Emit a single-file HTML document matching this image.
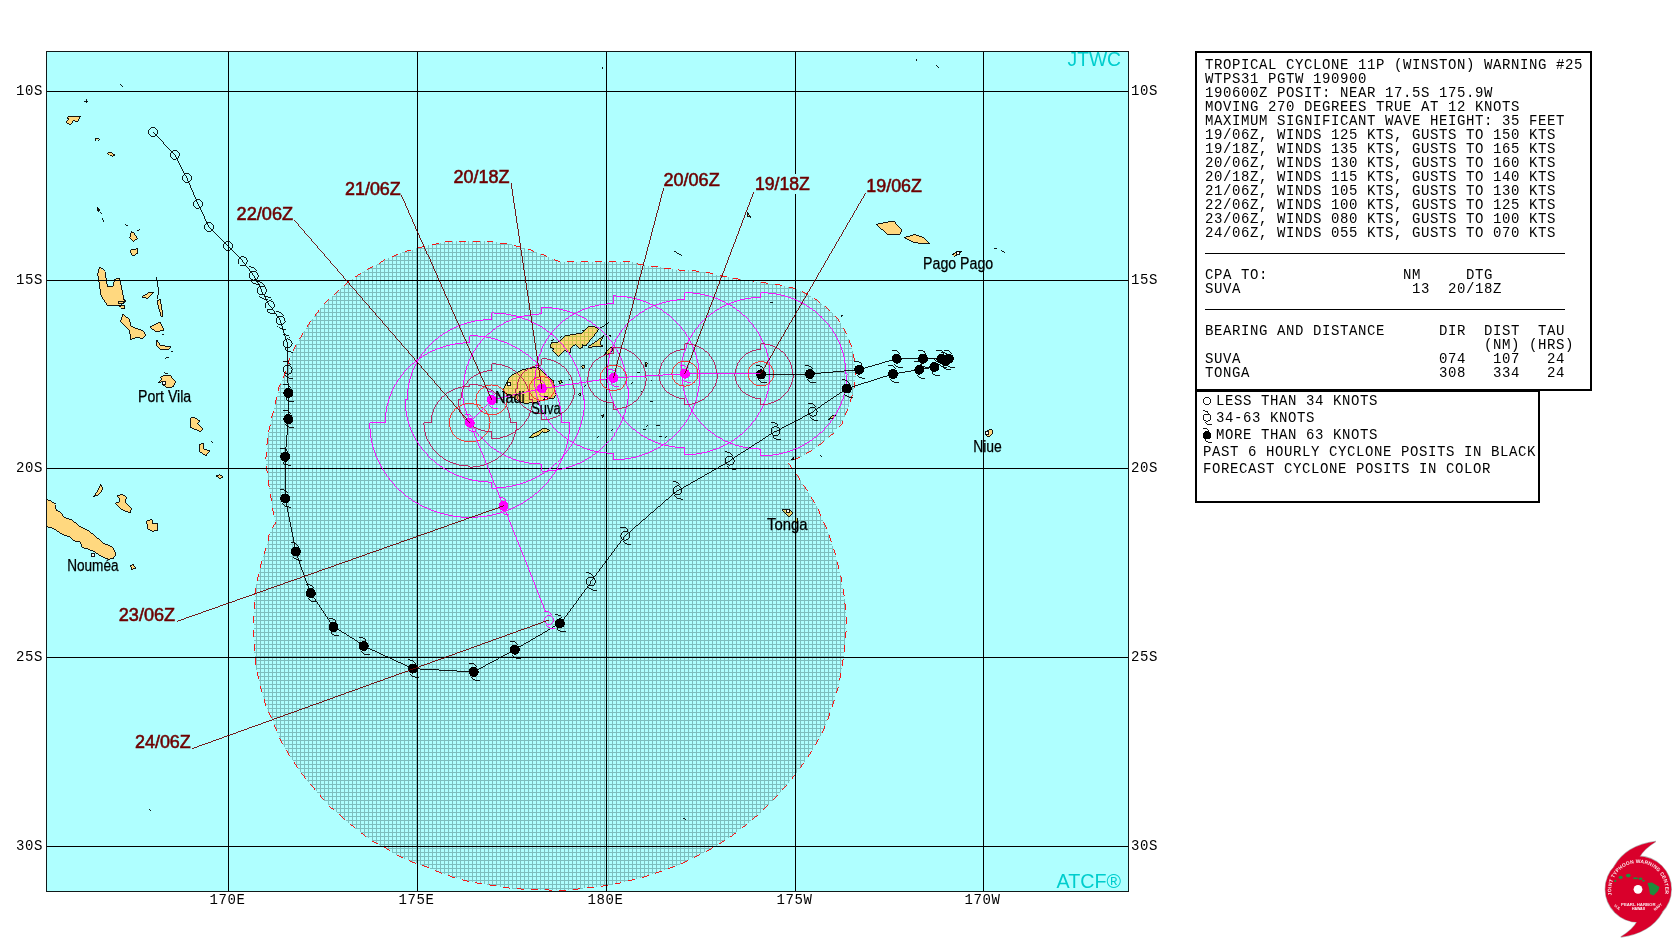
<!DOCTYPE html><html><head><meta charset="utf-8"><title>TC 11P Winston Warning 25</title>
<style>html,body{margin:0;padding:0;background:#fff;width:1678px;height:943px;overflow:hidden}svg text{font-family:"Liberation Sans",sans-serif}.m{font-family:"Liberation Mono",monospace;font-size:14px;fill:#000}.s{font-family:"Liberation Sans",sans-serif}</style></head><body>
<svg width="1678" height="943" viewBox="0 0 1678 943" shape-rendering="crispEdges" style="position:absolute;left:0;top:0;display:block;will-change:transform">
<defs>
<pattern id="hatch" patternUnits="userSpaceOnUse" x="0" y="0" width="4" height="4"><rect x="0" y="0" width="4" height="1" fill="#7dbebe"/><rect x="0" y="0" width="1" height="4" fill="#7dbebe"/></pattern>
<pattern id="hatch2" patternUnits="userSpaceOnUse" x="0" y="0" width="4" height="4"><rect x="0" y="0" width="4" height="1" fill="#bebe46"/><rect x="0" y="0" width="1" height="4" fill="#bebe46"/></pattern>
<clipPath id="islclip"><polygon points="68.4,116.3 80.8,116.4 79.7,117.4 78.5,120.2 77.6,121.5 75.3,121.5 74.0,120.3 72.5,121.9 70.4,124.6 68.1,123.6 66.2,121.5 67.6,120.2 68.5,118.9 67.2,118.4"/><polygon points="95.0,138.5 99.0,138.5 97.0,141.0"/><polygon points="97.0,207.0 99.5,209.5 97.5,211.0"/><polygon points="107.5,152.5 110.0,151.7 113.0,154.0 114.6,155.0 112.0,156.8 109.5,155.0"/><polygon points="131.0,231.5 134.0,233.0 137.3,238.5 133.0,241.5 129.5,238.0"/><polygon points="130.5,249.5 137.5,248.8 137.8,253.0 134.0,255.5 131.5,255.0"/><polygon points="99.5,267.3 105.0,271.7 107.3,286.2 112.8,286.2 115.1,279.1 119.5,278.4 121.7,288.4 124.4,301.8 119.5,305.1 107.3,305.1 101.2,296.2 97.7,273.9"/><polygon points="118.0,301.5 123.0,301.0 123.5,303.4 119.0,303.6"/><polygon points="117.5,305.5 122.0,305.0 124.7,306.0 124.5,308.8 121.0,308.0"/><polygon points="141.8,297.0 150.0,292.0 154.0,292.0 148.0,298.4"/><polygon points="157.5,300.0 160.0,299.0 163.0,315.0 161.5,317.4 158.0,305.0"/><polygon points="122.9,314.0 129.5,319.6 130.7,326.3 142.9,330.7 146.2,335.2 142.9,338.5 136.2,337.4 130.7,339.7 129.5,330.7 120.6,321.8"/><polygon points="149.6,327.0 160.0,321.8 164.1,330.0 156.0,331.9"/><polygon points="157.0,340.0 160.0,345.0 170.7,347.0 168.0,349.7 160.0,349.0 156.3,345.0"/><polygon points="158.2,382.5 160.0,381.0 161.5,379.0 160.2,377.3 162.6,376.2 164.3,375.2 169.8,375.3 171.8,377.3 175.5,381.6 174.4,384.2 173.5,386.2 170.6,387.6 167.2,387.6 165.2,386.2 162.3,384.8 162.0,381.6 160.6,382.2"/><polygon points="190.6,418.1 193.9,417.2 199.6,421.0 197.2,423.4 203.4,429.1 200.1,431.5 191.0,427.7"/><polygon points="199.0,445.0 203.0,443.2 204.0,449.0 209.7,451.0 206.0,455.5 200.0,452.0"/><polygon points="40.0,496.0 46.0,498.2 48.5,500.1 55.5,504.6 56.2,510.3 61.3,512.8 63.8,517.3 69.5,519.2 72.7,521.1 76.5,523.0 79.1,526.2 89.3,531.3 96.9,537.6 104.6,544.0 112.2,546.6 116.0,554.2 113.5,558.0 108.4,559.3 102.0,556.7 94.4,551.6 88.0,549.1 82.9,547.8 80.4,541.5 75.3,541.5 68.9,536.4 63.8,535.1 58.7,531.9 53.6,528.7 46.0,526.2 40.0,525.0"/><polygon points="100.7,483.5 102.6,487.4 101.4,491.8 98.2,495.0 93.1,496.7 96.3,493.1 98.8,488.0"/><polygon points="117.3,495.6 122.4,494.4 126.2,496.9 125.6,503.3 131.3,507.7 130.6,512.8 124.9,510.9 119.8,508.4 115.8,503.3 119.8,501.4 119.2,498.2"/><polygon points="146.6,521.1 151.7,519.2 152.9,523.6 158.0,523.6 157.4,530.6 152.3,531.3 147.8,528.7"/><polygon points="130.5,565.0 133.0,564.4 135.7,568.0 132.0,569.5"/><polygon points="216.0,476.0 220.0,474.6 222.9,477.0 220.0,478.5"/><polygon points="502.7,391.5 507.8,379.8 512.3,374.6 523.1,369.5 536.4,367.3 539.6,368.3 542.8,372.1 551.1,379.1 553.6,381.0 554.3,388.6 556.2,394.4 553.6,398.2 547.3,398.8 540.9,400.7 535.8,402.6 524.4,403.3 519.3,401.4"/><polygon points="549.9,347.1 551.3,343.0 558.4,342.1 565.6,335.9 572.7,334.5 582.1,333.2 585.2,330.1 588.6,326.3 593.7,326.5 597.7,328.3 598.6,329.2 594.6,335.0 587.9,343.0 586.1,345.7 582.1,344.8 582.1,347.5 579.9,348.4 575.8,344.4 571.8,346.6 570.0,350.6 570.0,352.9 564.7,350.2 558.4,356.4 552.6,351.1 553.5,348.4"/><polygon points="587.9,347.1 600.0,338.6 603.6,335.4 600.9,341.7 600.0,344.4 603.1,346.2 594.2,346.2 589.7,348.0"/><polygon points="604.5,354.7 608.5,348.8 612.1,345.7 613.0,349.3 609.8,353.3"/><polygon points="608.5,335.5 610.7,334.5 610.0,336.8"/><polygon points="529.2,437.6 532.8,434.3 536.4,432.5 538.8,431.3 541.2,429.5 544.1,428.3 547.1,428.9 550.1,430.7 547.7,431.9 544.7,432.5 542.3,431.9 539.4,434.9 536.4,436.1 532.8,437.6"/><polygon points="558.5,381.0 561.0,380.0 562.5,382.5 560.0,383.5"/><polygon points="581.5,365.8 584.5,365.5 583.0,368.5"/><polygon points="578.5,393.5 580.5,392.5 581.0,396.0"/><polygon points="601.5,415.0 604.0,414.8 602.5,417.8"/><polygon points="645.2,363.0 647.2,362.8 646.8,366.2 645.4,366.0"/><polygon points="747.3,212.2 750.9,217.2 748.0,216.5"/><polygon points="876.2,224.3 885.7,222.4 893.8,221.2 901.5,229.5 899.6,234.3 887.6,234.6"/><polygon points="904.3,237.6 914.3,234.6 922.9,237.2 929.6,243.4 914.3,242.9 906.7,239.1"/><polygon points="951.5,254.3 957.2,251.5 961.5,251.2 959.1,253.9 954.4,256.2"/><polygon points="985.8,431.6 991.6,429.1 992.8,432.9 989.7,436.4 986.5,436.1"/><polygon points="828.0,419.5 832.0,416.0 836.0,415.5 833.0,418.0"/><polygon points="782.2,510.0 789.0,509.5 792.8,513.0 789.0,517.0"/><polygon points="795.5,519.0 797.0,517.5 798.0,522.0 795.5,522.0"/></clipPath>
<clipPath id="mc"><rect x="47" y="52" width="1081" height="839"/></clipPath>
</defs>
<rect x="0" y="0" width="1678" height="943" fill="#fff"/>
<rect x="46" y="51" width="1083" height="841" fill="#afffff"/>
<g clip-path="url(#mc)">
<polygon points="68.4,116.3 80.8,116.4 79.7,117.4 78.5,120.2 77.6,121.5 75.3,121.5 74.0,120.3 72.5,121.9 70.4,124.6 68.1,123.6 66.2,121.5 67.6,120.2 68.5,118.9 67.2,118.4" fill="#ffd87f"/>
<polygon points="95.0,138.5 99.0,138.5 97.0,141.0" fill="#ffd87f"/>
<polygon points="97.0,207.0 99.5,209.5 97.5,211.0" fill="#ffd87f"/>
<polygon points="107.5,152.5 110.0,151.7 113.0,154.0 114.6,155.0 112.0,156.8 109.5,155.0" fill="#ffd87f"/>
<polygon points="131.0,231.5 134.0,233.0 137.3,238.5 133.0,241.5 129.5,238.0" fill="#ffd87f"/>
<polygon points="130.5,249.5 137.5,248.8 137.8,253.0 134.0,255.5 131.5,255.0" fill="#ffd87f"/>
<polygon points="99.5,267.3 105.0,271.7 107.3,286.2 112.8,286.2 115.1,279.1 119.5,278.4 121.7,288.4 124.4,301.8 119.5,305.1 107.3,305.1 101.2,296.2 97.7,273.9" fill="#ffd87f"/>
<polygon points="118.0,301.5 123.0,301.0 123.5,303.4 119.0,303.6" fill="#ffd87f"/>
<polygon points="117.5,305.5 122.0,305.0 124.7,306.0 124.5,308.8 121.0,308.0" fill="#ffd87f"/>
<polygon points="141.8,297.0 150.0,292.0 154.0,292.0 148.0,298.4" fill="#ffd87f"/>
<polygon points="157.5,300.0 160.0,299.0 163.0,315.0 161.5,317.4 158.0,305.0" fill="#ffd87f"/>
<polygon points="122.9,314.0 129.5,319.6 130.7,326.3 142.9,330.7 146.2,335.2 142.9,338.5 136.2,337.4 130.7,339.7 129.5,330.7 120.6,321.8" fill="#ffd87f"/>
<polygon points="149.6,327.0 160.0,321.8 164.1,330.0 156.0,331.9" fill="#ffd87f"/>
<polygon points="157.0,340.0 160.0,345.0 170.7,347.0 168.0,349.7 160.0,349.0 156.3,345.0" fill="#ffd87f"/>
<polygon points="158.2,382.5 160.0,381.0 161.5,379.0 160.2,377.3 162.6,376.2 164.3,375.2 169.8,375.3 171.8,377.3 175.5,381.6 174.4,384.2 173.5,386.2 170.6,387.6 167.2,387.6 165.2,386.2 162.3,384.8 162.0,381.6 160.6,382.2" fill="#ffd87f"/>
<polygon points="190.6,418.1 193.9,417.2 199.6,421.0 197.2,423.4 203.4,429.1 200.1,431.5 191.0,427.7" fill="#ffd87f"/>
<polygon points="199.0,445.0 203.0,443.2 204.0,449.0 209.7,451.0 206.0,455.5 200.0,452.0" fill="#ffd87f"/>
<polygon points="40.0,496.0 46.0,498.2 48.5,500.1 55.5,504.6 56.2,510.3 61.3,512.8 63.8,517.3 69.5,519.2 72.7,521.1 76.5,523.0 79.1,526.2 89.3,531.3 96.9,537.6 104.6,544.0 112.2,546.6 116.0,554.2 113.5,558.0 108.4,559.3 102.0,556.7 94.4,551.6 88.0,549.1 82.9,547.8 80.4,541.5 75.3,541.5 68.9,536.4 63.8,535.1 58.7,531.9 53.6,528.7 46.0,526.2 40.0,525.0" fill="#ffd87f"/>
<polygon points="100.7,483.5 102.6,487.4 101.4,491.8 98.2,495.0 93.1,496.7 96.3,493.1 98.8,488.0" fill="#ffd87f"/>
<polygon points="117.3,495.6 122.4,494.4 126.2,496.9 125.6,503.3 131.3,507.7 130.6,512.8 124.9,510.9 119.8,508.4 115.8,503.3 119.8,501.4 119.2,498.2" fill="#ffd87f"/>
<polygon points="146.6,521.1 151.7,519.2 152.9,523.6 158.0,523.6 157.4,530.6 152.3,531.3 147.8,528.7" fill="#ffd87f"/>
<polygon points="130.5,565.0 133.0,564.4 135.7,568.0 132.0,569.5" fill="#ffd87f"/>
<polygon points="216.0,476.0 220.0,474.6 222.9,477.0 220.0,478.5" fill="#ffd87f"/>
<polygon points="502.7,391.5 507.8,379.8 512.3,374.6 523.1,369.5 536.4,367.3 539.6,368.3 542.8,372.1 551.1,379.1 553.6,381.0 554.3,388.6 556.2,394.4 553.6,398.2 547.3,398.8 540.9,400.7 535.8,402.6 524.4,403.3 519.3,401.4" fill="#ffd87f"/>
<polygon points="549.9,347.1 551.3,343.0 558.4,342.1 565.6,335.9 572.7,334.5 582.1,333.2 585.2,330.1 588.6,326.3 593.7,326.5 597.7,328.3 598.6,329.2 594.6,335.0 587.9,343.0 586.1,345.7 582.1,344.8 582.1,347.5 579.9,348.4 575.8,344.4 571.8,346.6 570.0,350.6 570.0,352.9 564.7,350.2 558.4,356.4 552.6,351.1 553.5,348.4" fill="#ffd87f"/>
<polygon points="587.9,347.1 600.0,338.6 603.6,335.4 600.9,341.7 600.0,344.4 603.1,346.2 594.2,346.2 589.7,348.0" fill="#ffd87f"/>
<polygon points="604.5,354.7 608.5,348.8 612.1,345.7 613.0,349.3 609.8,353.3" fill="#ffd87f"/>
<polygon points="608.5,335.5 610.7,334.5 610.0,336.8" fill="#ffd87f"/>
<polygon points="529.2,437.6 532.8,434.3 536.4,432.5 538.8,431.3 541.2,429.5 544.1,428.3 547.1,428.9 550.1,430.7 547.7,431.9 544.7,432.5 542.3,431.9 539.4,434.9 536.4,436.1 532.8,437.6" fill="#ffd87f"/>
<polygon points="558.5,381.0 561.0,380.0 562.5,382.5 560.0,383.5" fill="#ffd87f"/>
<polygon points="581.5,365.8 584.5,365.5 583.0,368.5" fill="#ffd87f"/>
<polygon points="578.5,393.5 580.5,392.5 581.0,396.0" fill="#ffd87f"/>
<polygon points="601.5,415.0 604.0,414.8 602.5,417.8" fill="#ffd87f"/>
<polygon points="645.2,363.0 647.2,362.8 646.8,366.2 645.4,366.0" fill="#ffd87f"/>
<polygon points="747.3,212.2 750.9,217.2 748.0,216.5" fill="#ffd87f"/>
<polygon points="876.2,224.3 885.7,222.4 893.8,221.2 901.5,229.5 899.6,234.3 887.6,234.6" fill="#ffd87f"/>
<polygon points="904.3,237.6 914.3,234.6 922.9,237.2 929.6,243.4 914.3,242.9 906.7,239.1" fill="#ffd87f"/>
<polygon points="951.5,254.3 957.2,251.5 961.5,251.2 959.1,253.9 954.4,256.2" fill="#ffd87f"/>
<polygon points="985.8,431.6 991.6,429.1 992.8,432.9 989.7,436.4 986.5,436.1" fill="#ffd87f"/>
<polygon points="828.0,419.5 832.0,416.0 836.0,415.5 833.0,418.0" fill="#ffd87f"/>
<polygon points="782.2,510.0 789.0,509.5 792.8,513.0 789.0,517.0" fill="#ffd87f"/>
<polygon points="795.5,519.0 797.0,517.5 798.0,522.0 795.5,522.0" fill="#ffd87f"/>
<polygon points="486.5,241.3 498.4,242.5 502.0,243.6 511.5,244.3 517.5,246.5 525.8,248.7 530.6,250.1 540.1,253.5 544.9,255.6 553.8,259.4 559.2,261.6 630.7,261.8 637.9,263.9 643.2,265.1 651.3,266.7 657.4,266.7 665.5,268.2 671.5,268.5 679.6,270.2 684.7,270.5 692.8,270.4 697.9,271.4 707.0,272.2 712.1,273.7 720.2,275.8 726.3,276.6 734.4,278.5 740.4,279.3 748.5,280.5 754.6,281.5 762.7,282.4 768.8,283.7 776.9,284.4 783.0,285.6 791.1,287.4 796.2,289.2 805.0,292.9 817.7,300.7 828.3,309.2 837.8,318.7 845.2,331.4 851.6,346.3 854.7,361.1 855.8,375.9 853.7,390.8 848.4,407.7 842.0,422.5 833.6,433.1 824.0,441.6 812.4,450.1 801.8,456.4 790.1,461.7 787.5,462.5 794.2,470.5 806.1,489.0 816.7,506.3 827.3,530.2 835.3,554.0 836.9,561.4 841.0,576.6 843.8,593.1 846.0,612.4 846.0,631.7 844.3,651.0 841.6,670.3 838.3,686.9 834.1,700.7 828.6,717.2 823.1,731.0 816.2,743.4 807.9,757.2 796.9,772.4 785.9,786.2 774.8,798.6 761.0,812.4 747.5,823.7 734.0,834.4 719.6,843.8 706.0,851.6 691.7,858.8 678.1,865.2 664.5,870.2 650.2,875.2 635.9,879.1 623.0,882.4 608.7,885.3 594.4,887.1 580.0,888.8 565.7,890.3 543.7,889.9 529.3,889.3 512.7,888.7 498.2,886.2 483.8,884.1 469.3,881.6 454.8,877.9 440.3,872.7 425.8,866.5 413.4,862.4 398.9,856.2 384.5,847.9 370.0,839.6 357.6,830.3 343.1,817.9 329.6,806.5 316.2,791.0 304.8,777.6 294.5,763.1 287.2,751.7 279.0,737.2 272.8,720.7 265.5,705.2 260.3,685.2 256.5,669.9 254.6,654.7 253.6,635.5 253.6,616.4 254.6,597.3 256.5,584.0 259.3,570.6 264.1,553.4 267.9,541.9 269.5,532.7 275.3,523.2 273.4,513.7 268.6,483.1 265.7,460.2 267.6,437.3 271.5,418.2 274.3,408.6 276.3,398.1 279.3,386.2 285.2,372.9 289.7,358.0 295.6,346.1 303.1,332.8 312.0,319.4 322.4,306.0 334.3,294.2 347.6,282.3 363.8,271.3 371.3,267.5 377.7,264.3 385.2,259.5 391.7,257.3 399.2,253.6 405.6,251.4 413.1,249.5 419.5,247.5 427.1,245.5 434.0,244.4 441.0,242.6 448.0,241.5 457.9,241.3" fill="url(#hatch)" shape-rendering="crispEdges"/>
<polygon points="486.5,241.3 498.4,242.5 502.0,243.6 511.5,244.3 517.5,246.5 525.8,248.7 530.6,250.1 540.1,253.5 544.9,255.6 553.8,259.4 559.2,261.6 630.7,261.8 637.9,263.9 643.2,265.1 651.3,266.7 657.4,266.7 665.5,268.2 671.5,268.5 679.6,270.2 684.7,270.5 692.8,270.4 697.9,271.4 707.0,272.2 712.1,273.7 720.2,275.8 726.3,276.6 734.4,278.5 740.4,279.3 748.5,280.5 754.6,281.5 762.7,282.4 768.8,283.7 776.9,284.4 783.0,285.6 791.1,287.4 796.2,289.2 805.0,292.9 817.7,300.7 828.3,309.2 837.8,318.7 845.2,331.4 851.6,346.3 854.7,361.1 855.8,375.9 853.7,390.8 848.4,407.7 842.0,422.5 833.6,433.1 824.0,441.6 812.4,450.1 801.8,456.4 790.1,461.7 787.5,462.5 794.2,470.5 806.1,489.0 816.7,506.3 827.3,530.2 835.3,554.0 836.9,561.4 841.0,576.6 843.8,593.1 846.0,612.4 846.0,631.7 844.3,651.0 841.6,670.3 838.3,686.9 834.1,700.7 828.6,717.2 823.1,731.0 816.2,743.4 807.9,757.2 796.9,772.4 785.9,786.2 774.8,798.6 761.0,812.4 747.5,823.7 734.0,834.4 719.6,843.8 706.0,851.6 691.7,858.8 678.1,865.2 664.5,870.2 650.2,875.2 635.9,879.1 623.0,882.4 608.7,885.3 594.4,887.1 580.0,888.8 565.7,890.3 543.7,889.9 529.3,889.3 512.7,888.7 498.2,886.2 483.8,884.1 469.3,881.6 454.8,877.9 440.3,872.7 425.8,866.5 413.4,862.4 398.9,856.2 384.5,847.9 370.0,839.6 357.6,830.3 343.1,817.9 329.6,806.5 316.2,791.0 304.8,777.6 294.5,763.1 287.2,751.7 279.0,737.2 272.8,720.7 265.5,705.2 260.3,685.2 256.5,669.9 254.6,654.7 253.6,635.5 253.6,616.4 254.6,597.3 256.5,584.0 259.3,570.6 264.1,553.4 267.9,541.9 269.5,532.7 275.3,523.2 273.4,513.7 268.6,483.1 265.7,460.2 267.6,437.3 271.5,418.2 274.3,408.6 276.3,398.1 279.3,386.2 285.2,372.9 289.7,358.0 295.6,346.1 303.1,332.8 312.0,319.4 322.4,306.0 334.3,294.2 347.6,282.3 363.8,271.3 371.3,267.5 377.7,264.3 385.2,259.5 391.7,257.3 399.2,253.6 405.6,251.4 413.1,249.5 419.5,247.5 427.1,245.5 434.0,244.4 441.0,242.6 448.0,241.5 457.9,241.3" fill="url(#hatch2)" clip-path="url(#islclip)" shape-rendering="crispEdges"/>
<polygon points="68.4,116.3 80.8,116.4 79.7,117.4 78.5,120.2 77.6,121.5 75.3,121.5 74.0,120.3 72.5,121.9 70.4,124.6 68.1,123.6 66.2,121.5 67.6,120.2 68.5,118.9 67.2,118.4" fill="none" stroke="#000" stroke-width="0.9"/>
<polygon points="95.0,138.5 99.0,138.5 97.0,141.0" fill="none" stroke="#000" stroke-width="0.9"/>
<polygon points="97.0,207.0 99.5,209.5 97.5,211.0" fill="none" stroke="#000" stroke-width="0.9"/>
<polygon points="107.5,152.5 110.0,151.7 113.0,154.0 114.6,155.0 112.0,156.8 109.5,155.0" fill="none" stroke="#000" stroke-width="0.9"/>
<polygon points="131.0,231.5 134.0,233.0 137.3,238.5 133.0,241.5 129.5,238.0" fill="none" stroke="#000" stroke-width="0.9"/>
<polygon points="130.5,249.5 137.5,248.8 137.8,253.0 134.0,255.5 131.5,255.0" fill="none" stroke="#000" stroke-width="0.9"/>
<polygon points="99.5,267.3 105.0,271.7 107.3,286.2 112.8,286.2 115.1,279.1 119.5,278.4 121.7,288.4 124.4,301.8 119.5,305.1 107.3,305.1 101.2,296.2 97.7,273.9" fill="none" stroke="#000" stroke-width="0.9"/>
<polygon points="118.0,301.5 123.0,301.0 123.5,303.4 119.0,303.6" fill="none" stroke="#000" stroke-width="0.9"/>
<polygon points="117.5,305.5 122.0,305.0 124.7,306.0 124.5,308.8 121.0,308.0" fill="none" stroke="#000" stroke-width="0.9"/>
<polygon points="141.8,297.0 150.0,292.0 154.0,292.0 148.0,298.4" fill="none" stroke="#000" stroke-width="0.9"/>
<polygon points="157.5,300.0 160.0,299.0 163.0,315.0 161.5,317.4 158.0,305.0" fill="none" stroke="#000" stroke-width="0.9"/>
<polygon points="122.9,314.0 129.5,319.6 130.7,326.3 142.9,330.7 146.2,335.2 142.9,338.5 136.2,337.4 130.7,339.7 129.5,330.7 120.6,321.8" fill="none" stroke="#000" stroke-width="0.9"/>
<polygon points="149.6,327.0 160.0,321.8 164.1,330.0 156.0,331.9" fill="none" stroke="#000" stroke-width="0.9"/>
<polygon points="157.0,340.0 160.0,345.0 170.7,347.0 168.0,349.7 160.0,349.0 156.3,345.0" fill="none" stroke="#000" stroke-width="0.9"/>
<polygon points="158.2,382.5 160.0,381.0 161.5,379.0 160.2,377.3 162.6,376.2 164.3,375.2 169.8,375.3 171.8,377.3 175.5,381.6 174.4,384.2 173.5,386.2 170.6,387.6 167.2,387.6 165.2,386.2 162.3,384.8 162.0,381.6 160.6,382.2" fill="none" stroke="#000" stroke-width="0.9"/>
<polygon points="190.6,418.1 193.9,417.2 199.6,421.0 197.2,423.4 203.4,429.1 200.1,431.5 191.0,427.7" fill="none" stroke="#000" stroke-width="0.9"/>
<polygon points="199.0,445.0 203.0,443.2 204.0,449.0 209.7,451.0 206.0,455.5 200.0,452.0" fill="none" stroke="#000" stroke-width="0.9"/>
<polygon points="40.0,496.0 46.0,498.2 48.5,500.1 55.5,504.6 56.2,510.3 61.3,512.8 63.8,517.3 69.5,519.2 72.7,521.1 76.5,523.0 79.1,526.2 89.3,531.3 96.9,537.6 104.6,544.0 112.2,546.6 116.0,554.2 113.5,558.0 108.4,559.3 102.0,556.7 94.4,551.6 88.0,549.1 82.9,547.8 80.4,541.5 75.3,541.5 68.9,536.4 63.8,535.1 58.7,531.9 53.6,528.7 46.0,526.2 40.0,525.0" fill="none" stroke="#000" stroke-width="0.9"/>
<polygon points="100.7,483.5 102.6,487.4 101.4,491.8 98.2,495.0 93.1,496.7 96.3,493.1 98.8,488.0" fill="none" stroke="#000" stroke-width="0.9"/>
<polygon points="117.3,495.6 122.4,494.4 126.2,496.9 125.6,503.3 131.3,507.7 130.6,512.8 124.9,510.9 119.8,508.4 115.8,503.3 119.8,501.4 119.2,498.2" fill="none" stroke="#000" stroke-width="0.9"/>
<polygon points="146.6,521.1 151.7,519.2 152.9,523.6 158.0,523.6 157.4,530.6 152.3,531.3 147.8,528.7" fill="none" stroke="#000" stroke-width="0.9"/>
<polygon points="130.5,565.0 133.0,564.4 135.7,568.0 132.0,569.5" fill="none" stroke="#000" stroke-width="0.9"/>
<polygon points="216.0,476.0 220.0,474.6 222.9,477.0 220.0,478.5" fill="none" stroke="#000" stroke-width="0.9"/>
<polygon points="502.7,391.5 507.8,379.8 512.3,374.6 523.1,369.5 536.4,367.3 539.6,368.3 542.8,372.1 551.1,379.1 553.6,381.0 554.3,388.6 556.2,394.4 553.6,398.2 547.3,398.8 540.9,400.7 535.8,402.6 524.4,403.3 519.3,401.4" fill="none" stroke="#000" stroke-width="0.9"/>
<polygon points="549.9,347.1 551.3,343.0 558.4,342.1 565.6,335.9 572.7,334.5 582.1,333.2 585.2,330.1 588.6,326.3 593.7,326.5 597.7,328.3 598.6,329.2 594.6,335.0 587.9,343.0 586.1,345.7 582.1,344.8 582.1,347.5 579.9,348.4 575.8,344.4 571.8,346.6 570.0,350.6 570.0,352.9 564.7,350.2 558.4,356.4 552.6,351.1 553.5,348.4" fill="none" stroke="#000" stroke-width="0.9"/>
<polygon points="587.9,347.1 600.0,338.6 603.6,335.4 600.9,341.7 600.0,344.4 603.1,346.2 594.2,346.2 589.7,348.0" fill="none" stroke="#000" stroke-width="0.9"/>
<polygon points="604.5,354.7 608.5,348.8 612.1,345.7 613.0,349.3 609.8,353.3" fill="none" stroke="#000" stroke-width="0.9"/>
<polygon points="608.5,335.5 610.7,334.5 610.0,336.8" fill="none" stroke="#000" stroke-width="0.9"/>
<polygon points="529.2,437.6 532.8,434.3 536.4,432.5 538.8,431.3 541.2,429.5 544.1,428.3 547.1,428.9 550.1,430.7 547.7,431.9 544.7,432.5 542.3,431.9 539.4,434.9 536.4,436.1 532.8,437.6" fill="none" stroke="#000" stroke-width="0.9"/>
<polygon points="558.5,381.0 561.0,380.0 562.5,382.5 560.0,383.5" fill="none" stroke="#000" stroke-width="0.9"/>
<polygon points="581.5,365.8 584.5,365.5 583.0,368.5" fill="none" stroke="#000" stroke-width="0.9"/>
<polygon points="578.5,393.5 580.5,392.5 581.0,396.0" fill="none" stroke="#000" stroke-width="0.9"/>
<polygon points="601.5,415.0 604.0,414.8 602.5,417.8" fill="none" stroke="#000" stroke-width="0.9"/>
<polygon points="645.2,363.0 647.2,362.8 646.8,366.2 645.4,366.0" fill="none" stroke="#000" stroke-width="0.9"/>
<polygon points="747.3,212.2 750.9,217.2 748.0,216.5" fill="none" stroke="#000" stroke-width="0.9"/>
<polygon points="876.2,224.3 885.7,222.4 893.8,221.2 901.5,229.5 899.6,234.3 887.6,234.6" fill="none" stroke="#000" stroke-width="0.9"/>
<polygon points="904.3,237.6 914.3,234.6 922.9,237.2 929.6,243.4 914.3,242.9 906.7,239.1" fill="none" stroke="#000" stroke-width="0.9"/>
<polygon points="951.5,254.3 957.2,251.5 961.5,251.2 959.1,253.9 954.4,256.2" fill="none" stroke="#000" stroke-width="0.9"/>
<polygon points="985.8,431.6 991.6,429.1 992.8,432.9 989.7,436.4 986.5,436.1" fill="none" stroke="#000" stroke-width="0.9"/>
<polygon points="828.0,419.5 832.0,416.0 836.0,415.5 833.0,418.0" fill="none" stroke="#000" stroke-width="0.9"/>
<polygon points="782.2,510.0 789.0,509.5 792.8,513.0 789.0,517.0" fill="none" stroke="#000" stroke-width="0.9"/>
<polygon points="795.5,519.0 797.0,517.5 798.0,522.0 795.5,522.0" fill="none" stroke="#000" stroke-width="0.9"/>
<polyline points="124.4,299.5 126.0,301.0 124.8,302.7" fill="none" stroke="#000" stroke-width="0.9"/>
<polyline points="791.0,459.5 793.5,457.0 794.0,459.5 791.0,459.5" fill="none" stroke="#000" stroke-width="0.9"/>
<polyline points="120.5,84.0 122.5,86.5" fill="none" stroke="#000" stroke-width="0.9"/>
<polyline points="84.0,101.0 88.0,101.0" fill="none" stroke="#000" stroke-width="0.9"/>
<polyline points="86.0,99.0 86.0,102.5" fill="none" stroke="#000" stroke-width="0.9"/>
<polyline points="97.5,207.5 99.5,210.5" fill="none" stroke="#000" stroke-width="0.9"/>
<polyline points="100.0,212.0 102.0,214.0" fill="none" stroke="#000" stroke-width="0.9"/>
<polyline points="102.0,218.0 104.0,221.5" fill="none" stroke="#000" stroke-width="0.9"/>
<polyline points="125.0,224.5 127.5,225.5" fill="none" stroke="#000" stroke-width="0.9"/>
<polyline points="136.5,230.5 140.0,229.0" fill="none" stroke="#000" stroke-width="0.9"/>
<polyline points="156.3,277.3 158.5,290.0 157.5,299.0" fill="none" stroke="#000" stroke-width="0.9"/>
<polyline points="162.0,334.0 164.0,335.0" fill="none" stroke="#000" stroke-width="0.9"/>
<polyline points="164.3,372.3 165.5,373.5 167.8,374.5" fill="none" stroke="#000" stroke-width="0.9"/>
<polyline points="171.0,351.0 173.0,352.0" fill="none" stroke="#000" stroke-width="0.9"/>
<polyline points="165.0,358.5 169.0,357.0" fill="none" stroke="#000" stroke-width="0.9"/>
<polyline points="211.0,441.0 213.0,443.0" fill="none" stroke="#000" stroke-width="0.9"/>
<polyline points="674.0,251.0 682.0,255.7" fill="none" stroke="#000" stroke-width="0.9"/>
<polyline points="598.6,329.2 609.4,322.2" fill="none" stroke="#000" stroke-width="0.9"/>
<polyline points="559.8,337.7 562.4,336.3" fill="none" stroke="#000" stroke-width="0.9"/>
<polyline points="551.3,340.4 554.4,339.5" fill="none" stroke="#000" stroke-width="0.9"/>
<polyline points="581.7,330.3 583.9,330.3" fill="none" stroke="#000" stroke-width="0.9"/>
<polyline points="602.5,66.5 602.5,69.0" fill="none" stroke="#000" stroke-width="0.9"/>
<polyline points="916.0,58.5 916.0,60.5" fill="none" stroke="#000" stroke-width="0.9"/>
<polyline points="936.5,65.0 938.5,67.5" fill="none" stroke="#000" stroke-width="0.9"/>
<polyline points="994.0,248.3 997.0,248.3" fill="none" stroke="#000" stroke-width="0.9"/>
<polyline points="1001.0,250.0 1005.0,252.7" fill="none" stroke="#000" stroke-width="0.9"/>
<polyline points="149.0,808.5 151.0,810.5" fill="none" stroke="#000" stroke-width="0.9"/>
<polyline points="683.0,818.5 686.0,819.5" fill="none" stroke="#000" stroke-width="0.9"/>
<polyline points="820.0,455.0 822.0,457.0" fill="none" stroke="#000" stroke-width="0.9"/>
<polyline points="769.5,302.5 772.5,302.5" fill="none" stroke="#000" stroke-width="0.9"/>
<polyline points="841.0,316.5 843.0,315.5" fill="none" stroke="#000" stroke-width="0.9"/>
<polyline points="840.5,315.0 842.0,316.0" fill="none" stroke="#000" stroke-width="0.9"/>
<polyline points="568.5,378.8 569.8,380.2" fill="none" stroke="#000" stroke-width="0.9"/>
<polyline points="584.3,386.5 585.6,385.0" fill="none" stroke="#000" stroke-width="0.9"/>
<polyline points="611.0,430.8 613.0,428.6" fill="none" stroke="#000" stroke-width="0.9"/>
<polyline points="596.5,437.2 598.8,436.0" fill="none" stroke="#000" stroke-width="0.9"/>
<polyline points="631.0,384.3 633.3,382.0" fill="none" stroke="#000" stroke-width="0.9"/>
<polyline points="637.0,372.0 639.8,372.0" fill="none" stroke="#000" stroke-width="0.9"/>
<polyline points="650.5,380.5 652.0,381.6" fill="none" stroke="#000" stroke-width="0.9"/>
<polyline points="641.2,391.3 642.0,392.0" fill="none" stroke="#000" stroke-width="0.9"/>
<polyline points="650.2,401.2 653.2,401.2" fill="none" stroke="#000" stroke-width="0.9"/>
<polyline points="646.5,426.8 648.0,425.2" fill="none" stroke="#000" stroke-width="0.9"/>
<polyline points="643.4,429.6 646.0,429.6" fill="none" stroke="#000" stroke-width="0.9"/>
<polyline points="656.4,425.5 659.6,425.5" fill="none" stroke="#000" stroke-width="0.9"/>
<polyline points="658.6,436.6 661.8,436.6" fill="none" stroke="#000" stroke-width="0.9"/>
<polyline points="665.4,437.6 666.6,435.6" fill="none" stroke="#000" stroke-width="0.9"/>
<polygon points="486.5,241.3 498.4,242.5 502.0,243.6 511.5,244.3 517.5,246.5 525.8,248.7 530.6,250.1 540.1,253.5 544.9,255.6 553.8,259.4 559.2,261.6 630.7,261.8 637.9,263.9 643.2,265.1 651.3,266.7 657.4,266.7 665.5,268.2 671.5,268.5 679.6,270.2 684.7,270.5 692.8,270.4 697.9,271.4 707.0,272.2 712.1,273.7 720.2,275.8 726.3,276.6 734.4,278.5 740.4,279.3 748.5,280.5 754.6,281.5 762.7,282.4 768.8,283.7 776.9,284.4 783.0,285.6 791.1,287.4 796.2,289.2 805.0,292.9 817.7,300.7 828.3,309.2 837.8,318.7 845.2,331.4 851.6,346.3 854.7,361.1 855.8,375.9 853.7,390.8 848.4,407.7 842.0,422.5 833.6,433.1 824.0,441.6 812.4,450.1 801.8,456.4 790.1,461.7 787.5,462.5 794.2,470.5 806.1,489.0 816.7,506.3 827.3,530.2 835.3,554.0 836.9,561.4 841.0,576.6 843.8,593.1 846.0,612.4 846.0,631.7 844.3,651.0 841.6,670.3 838.3,686.9 834.1,700.7 828.6,717.2 823.1,731.0 816.2,743.4 807.9,757.2 796.9,772.4 785.9,786.2 774.8,798.6 761.0,812.4 747.5,823.7 734.0,834.4 719.6,843.8 706.0,851.6 691.7,858.8 678.1,865.2 664.5,870.2 650.2,875.2 635.9,879.1 623.0,882.4 608.7,885.3 594.4,887.1 580.0,888.8 565.7,890.3 543.7,889.9 529.3,889.3 512.7,888.7 498.2,886.2 483.8,884.1 469.3,881.6 454.8,877.9 440.3,872.7 425.8,866.5 413.4,862.4 398.9,856.2 384.5,847.9 370.0,839.6 357.6,830.3 343.1,817.9 329.6,806.5 316.2,791.0 304.8,777.6 294.5,763.1 287.2,751.7 279.0,737.2 272.8,720.7 265.5,705.2 260.3,685.2 256.5,669.9 254.6,654.7 253.6,635.5 253.6,616.4 254.6,597.3 256.5,584.0 259.3,570.6 264.1,553.4 267.9,541.9 269.5,532.7 275.3,523.2 273.4,513.7 268.6,483.1 265.7,460.2 267.6,437.3 271.5,418.2 274.3,408.6 276.3,398.1 279.3,386.2 285.2,372.9 289.7,358.0 295.6,346.1 303.1,332.8 312.0,319.4 322.4,306.0 334.3,294.2 347.6,282.3 363.8,271.3 371.3,267.5 377.7,264.3 385.2,259.5 391.7,257.3 399.2,253.6 405.6,251.4 413.1,249.5 419.5,247.5 427.1,245.5 434.0,244.4 441.0,242.6 448.0,241.5 457.9,241.3" fill="none" stroke="#ff0000" stroke-width="0.9" stroke-dasharray="7,7"/>
<rect x="507.6" y="382.7" width="3" height="3" fill="#fff" stroke="#000" stroke-width="0.9"/>
<rect x="544.5" y="396.5" width="3" height="3" fill="#fff" stroke="#000" stroke-width="0.9"/>
<rect x="91.5" y="553.5" width="3" height="3" fill="#fff" stroke="#000" stroke-width="0.9"/>
<rect x="786.0" y="509.3" width="3" height="3" fill="#fff" stroke="#000" stroke-width="0.9"/>
<rect x="956.7" y="251.7" width="3" height="3" fill="#fff" stroke="#000" stroke-width="0.9"/>
<rect x="985.6" y="431.4" width="3" height="3" fill="#fff" stroke="#000" stroke-width="0.9"/>
<rect x="162.4" y="381.4" width="3" height="3" fill="#fff" stroke="#000" stroke-width="0.9"/>
<rect x="228" y="51" width="1" height="841" fill="#000"/><rect x="417" y="51" width="1" height="841" fill="#000"/><rect x="606" y="51" width="1" height="841" fill="#000"/><rect x="795" y="51" width="1" height="841" fill="#000"/><rect x="983" y="51" width="1" height="841" fill="#000"/><rect x="46" y="91" width="1083" height="1" fill="#000"/><rect x="46" y="280" width="1083" height="1" fill="#000"/><rect x="46" y="468" width="1083" height="1" fill="#000"/><rect x="46" y="657" width="1083" height="1" fill="#000"/><rect x="46" y="846" width="1083" height="1" fill="#000"/>
<path d="M760.90,292.70 A84.93,81.00 0 0 1 845.83,373.70 L847.09,373.70 A86.19,82.20 0 0 1 760.90,455.90 L760.90,449.10 A79.06,75.40 0 0 1 681.84,373.70 L680.90,373.70 A80.00,76.30 0 0 1 760.90,297.40 Z" fill="none" stroke="#ff00ff" stroke-width="0.9"/>
<path d="M684.90,292.60 A85.04,81.10 0 0 1 769.94,373.70 L769.94,373.70 A85.04,81.10 0 0 1 684.90,454.80 L684.90,447.70 A77.59,74.00 0 0 1 607.31,373.70 L607.20,373.70 A77.70,74.10 0 0 1 684.90,299.60 Z" fill="none" stroke="#ff00ff" stroke-width="0.9"/>
<path d="M613.40,295.90 A86.03,82.00 0 0 1 699.43,377.90 L699.43,377.90 A86.03,82.00 0 0 1 613.40,459.90 L613.40,453.30 A79.10,75.40 0 0 1 534.30,377.90 L535.56,377.90 A77.84,74.20 0 0 1 613.40,303.70 Z" fill="none" stroke="#ff00ff" stroke-width="0.9"/>
<path d="M541.80,307.30 A85.33,81.20 0 0 1 627.13,388.50 L628.81,388.50 A87.01,82.80 0 0 1 541.80,471.30 L541.80,464.10 A79.45,75.60 0 0 1 462.35,388.50 L463.41,388.50 A78.39,74.60 0 0 1 541.80,313.90 Z" fill="none" stroke="#ff00ff" stroke-width="0.9"/>
<path d="M491.70,312.90 A91.58,87.00 0 0 1 583.28,399.90 L584.65,399.90 A92.95,88.30 0 0 1 491.70,488.20 L491.70,482.20 A86.63,82.30 0 0 1 405.07,399.90 L407.07,399.90 A84.63,80.40 0 0 1 491.70,319.50 Z" fill="none" stroke="#ff00ff" stroke-width="0.9"/>
<path d="M469.70,335.60 A92.01,87.10 0 0 1 561.71,422.70 L569.74,422.70 A100.04,94.70 0 0 1 469.70,517.40 L469.70,517.40 A100.04,94.70 0 0 1 369.66,422.70 L385.19,422.70 A84.51,80.00 0 0 1 469.70,342.70 Z" fill="none" stroke="#ff00ff" stroke-width="0.9"/>
<path d="M760.90,343.60 A31.56,30.10 0 0 1 792.46,373.70 L793.40,373.70 A32.50,31.00 0 0 1 760.90,404.70 L760.90,398.60 A26.11,24.90 0 0 1 734.79,373.70 L735.53,373.70 A25.37,24.20 0 0 1 760.90,349.50 Z" fill="none" stroke="#bc1458" stroke-width="0.9"/>
<path d="M684.90,343.60 A31.56,30.10 0 0 1 716.46,373.70 L717.51,373.70 A32.61,31.10 0 0 1 684.90,404.80 L684.90,398.60 A26.11,24.90 0 0 1 658.79,373.70 L659.53,373.70 A25.37,24.20 0 0 1 684.90,349.50 Z" fill="none" stroke="#bc1458" stroke-width="0.9"/>
<path d="M613.40,347.00 A32.42,30.90 0 0 1 645.82,377.90 L646.34,377.90 A32.94,31.40 0 0 1 613.40,409.30 L613.40,402.90 A26.23,25.00 0 0 1 587.17,377.90 L587.91,377.90 A25.49,24.30 0 0 1 613.40,353.60 Z" fill="none" stroke="#bc1458" stroke-width="0.9"/>
<path d="M541.80,358.50 A31.53,30.00 0 0 1 573.33,388.50 L574.90,388.50 A33.10,31.50 0 0 1 541.80,420.00 L541.80,413.50 A26.27,25.00 0 0 1 515.53,388.50 L517.00,388.50 A24.80,23.60 0 0 1 541.80,364.90 Z" fill="none" stroke="#bc1458" stroke-width="0.9"/>
<path d="M491.70,363.60 A38.21,36.30 0 0 1 529.91,399.90 L532.65,399.90 A40.95,38.90 0 0 1 491.70,438.80 L491.70,431.70 A33.47,31.80 0 0 1 458.23,399.90 L460.86,399.90 A30.84,29.30 0 0 1 491.70,370.60 Z" fill="none" stroke="#bc1458" stroke-width="0.9"/>
<path d="M469.70,384.10 A40.78,38.60 0 0 1 510.48,422.70 L516.81,422.70 A47.11,44.60 0 0 1 469.70,467.30 L469.70,466.20 A45.95,43.50 0 0 1 423.75,422.70 L431.14,422.70 A38.56,36.50 0 0 1 469.70,386.20 Z" fill="none" stroke="#bc1458" stroke-width="0.9"/>
<path d="M760.90,361.40 A12.90,12.30 0 0 1 773.80,373.70 L773.80,373.70 A12.90,12.30 0 0 1 760.90,386.00 L760.90,386.00 A12.90,12.30 0 0 1 748.00,373.70 L748.00,373.70 A12.90,12.30 0 0 1 760.90,361.40 Z" fill="none" stroke="#ff2a2a" stroke-width="0.9"/>
<path d="M684.90,361.20 A13.11,12.50 0 0 1 698.01,373.70 L698.01,373.70 A13.11,12.50 0 0 1 684.90,386.20 L684.90,386.20 A13.11,12.50 0 0 1 671.79,373.70 L671.79,373.70 A13.11,12.50 0 0 1 684.90,361.20 Z" fill="none" stroke="#ff2a2a" stroke-width="0.9"/>
<path d="M613.40,365.20 A13.32,12.70 0 0 1 626.72,377.90 L626.72,377.90 A13.32,12.70 0 0 1 613.40,390.60 L613.40,390.60 A13.32,12.70 0 0 1 600.08,377.90 L600.08,377.90 A13.32,12.70 0 0 1 613.40,365.20 Z" fill="none" stroke="#ff2a2a" stroke-width="0.9"/>
<path d="M541.80,376.50 A12.61,12.00 0 0 1 554.41,388.50 L554.41,388.50 A12.61,12.00 0 0 1 541.80,400.50 L541.80,400.50 A12.61,12.00 0 0 1 529.19,388.50 L529.19,388.50 A12.61,12.00 0 0 1 541.80,376.50 Z" fill="none" stroke="#ff2a2a" stroke-width="0.9"/>
<path d="M491.70,384.90 A15.79,15.00 0 0 1 507.49,399.90 L507.49,399.90 A15.79,15.00 0 0 1 491.70,414.90 L491.70,414.90 A15.79,15.00 0 0 1 475.91,399.90 L475.91,399.90 A15.79,15.00 0 0 1 491.70,384.90 Z" fill="none" stroke="#ff2a2a" stroke-width="0.9"/>
<path d="M469.70,403.40 A20.39,19.30 0 0 1 490.09,422.70 L490.09,422.70 A20.39,19.30 0 0 1 469.70,442.00 L469.70,442.00 A20.39,19.30 0 0 1 449.31,422.70 L449.31,422.70 A20.39,19.30 0 0 1 469.70,403.40 Z" fill="none" stroke="#ff2a2a" stroke-width="0.9"/>
<polyline points="152.9,131.9 174.8,154.8 186.8,178.0 197.9,203.8 209.1,227.0 228.0,245.9 242.7,261.2 253.7,275.6 261.9,290.5 269.8,305.3 280.5,320.5 287.6,343.4 287.6,369.7 288.3,393.0 288.3,419.1 285.2,456.8 285.2,498.4 295.9,551.5 310.8,593.1 333.5,627.0 363.7,646.0 412.8,668.6 473.7,671.9 514.8,649.7 559.8,623.3 590.9,581.5 625.3,535.7 677.5,490.4 729.7,460.6 775.5,431.1 812.6,411.7 846.9,388.5 893.0,374.0 919.3,369.7 934.3,367.0 945.5,361.1 948.8,358.7 941.3,358.7 923.0,358.7 896.7,358.7 859.2,369.7 809.8,374.0 761.0,374.3" fill="none" stroke="#000" stroke-width="0.9"/>
<circle cx="152.9" cy="131.9" r="4.5" fill="none" stroke="#000" stroke-width="0.9"/>
<circle cx="174.8" cy="154.8" r="4.5" fill="none" stroke="#000" stroke-width="0.9"/>
<circle cx="186.8" cy="178.0" r="4.5" fill="none" stroke="#000" stroke-width="0.9"/>
<circle cx="197.9" cy="203.8" r="4.5" fill="none" stroke="#000" stroke-width="0.9"/>
<circle cx="209.1" cy="227.0" r="4.5" fill="none" stroke="#000" stroke-width="0.9"/>
<circle cx="228.0" cy="245.9" r="4.5" fill="none" stroke="#000" stroke-width="0.9"/>
<circle cx="242.7" cy="261.2" r="4.5" fill="none" stroke="#000" stroke-width="0.9"/>
<circle cx="253.7" cy="275.6" r="4.5" fill="none" stroke="#000" stroke-width="0.9"/><path d="M248.7,266.9 Q254.7,266.6 256.3,270.6" fill="none" stroke="#000" stroke-width="0.9"/><path d="M251.1,280.6 Q252.7,284.6 259.5,284.3" fill="none" stroke="#000" stroke-width="0.9"/>
<circle cx="261.9" cy="290.5" r="4.5" fill="none" stroke="#000" stroke-width="0.9"/><path d="M256.9,281.8 Q262.9,281.5 264.5,285.5" fill="none" stroke="#000" stroke-width="0.9"/><path d="M259.3,295.5 Q260.9,299.5 267.7,299.2" fill="none" stroke="#000" stroke-width="0.9"/>
<circle cx="269.8" cy="305.3" r="4.5" fill="none" stroke="#000" stroke-width="0.9"/><path d="M264.8,296.6 Q270.8,296.3 272.4,300.3" fill="none" stroke="#000" stroke-width="0.9"/><path d="M267.2,310.3 Q268.8,314.3 275.6,314.0" fill="none" stroke="#000" stroke-width="0.9"/>
<circle cx="280.5" cy="320.5" r="4.5" fill="none" stroke="#000" stroke-width="0.9"/><path d="M275.5,311.8 Q281.5,311.5 283.1,315.5" fill="none" stroke="#000" stroke-width="0.9"/><path d="M277.9,325.5 Q279.5,329.5 286.3,329.2" fill="none" stroke="#000" stroke-width="0.9"/>
<circle cx="287.6" cy="343.4" r="4.5" fill="none" stroke="#000" stroke-width="0.9"/><path d="M282.6,334.7 Q288.6,334.4 290.2,338.4" fill="none" stroke="#000" stroke-width="0.9"/><path d="M285.0,348.4 Q286.6,352.4 293.4,352.1" fill="none" stroke="#000" stroke-width="0.9"/>
<circle cx="287.6" cy="369.7" r="4.5" fill="none" stroke="#000" stroke-width="0.9"/><path d="M282.6,361.0 Q288.6,360.7 290.2,364.7" fill="none" stroke="#000" stroke-width="0.9"/><path d="M285.0,374.7 Q286.6,378.7 293.4,378.4" fill="none" stroke="#000" stroke-width="0.9"/>
<circle cx="288.3" cy="393.0" r="5" fill="#000"/><path d="M283.3,384.3 Q289.3,384.0 290.9,388.0" fill="none" stroke="#000" stroke-width="0.9"/><path d="M285.7,398.0 Q287.3,402.0 294.1,401.7" fill="none" stroke="#000" stroke-width="0.9"/>
<circle cx="288.3" cy="419.1" r="5" fill="#000"/><path d="M283.3,410.4 Q289.3,410.1 290.9,414.1" fill="none" stroke="#000" stroke-width="0.9"/><path d="M285.7,424.1 Q287.3,428.1 294.1,427.8" fill="none" stroke="#000" stroke-width="0.9"/>
<circle cx="285.2" cy="456.8" r="5" fill="#000"/><path d="M280.2,448.1 Q286.2,447.8 287.8,451.8" fill="none" stroke="#000" stroke-width="0.9"/><path d="M282.6,461.8 Q284.2,465.8 291.0,465.5" fill="none" stroke="#000" stroke-width="0.9"/>
<circle cx="285.2" cy="498.4" r="5" fill="#000"/><path d="M280.2,489.7 Q286.2,489.4 287.8,493.4" fill="none" stroke="#000" stroke-width="0.9"/><path d="M282.6,503.4 Q284.2,507.4 291.0,507.1" fill="none" stroke="#000" stroke-width="0.9"/>
<circle cx="295.9" cy="551.5" r="5" fill="#000"/><path d="M290.9,542.8 Q296.9,542.5 298.5,546.5" fill="none" stroke="#000" stroke-width="0.9"/><path d="M293.3,556.5 Q294.9,560.5 301.7,560.2" fill="none" stroke="#000" stroke-width="0.9"/>
<circle cx="310.8" cy="593.1" r="5" fill="#000"/><path d="M305.8,584.4 Q311.8,584.1 313.4,588.1" fill="none" stroke="#000" stroke-width="0.9"/><path d="M308.2,598.1 Q309.8,602.1 316.6,601.8" fill="none" stroke="#000" stroke-width="0.9"/>
<circle cx="333.5" cy="627.0" r="5" fill="#000"/><path d="M328.5,618.3 Q334.5,618.0 336.1,622.0" fill="none" stroke="#000" stroke-width="0.9"/><path d="M330.9,632.0 Q332.5,636.0 339.3,635.7" fill="none" stroke="#000" stroke-width="0.9"/>
<circle cx="363.7" cy="646.0" r="5" fill="#000"/><path d="M358.7,637.3 Q364.7,637.0 366.3,641.0" fill="none" stroke="#000" stroke-width="0.9"/><path d="M361.1,651.0 Q362.7,655.0 369.5,654.7" fill="none" stroke="#000" stroke-width="0.9"/>
<circle cx="412.8" cy="668.6" r="5" fill="#000"/><path d="M407.8,659.9 Q413.8,659.6 415.4,663.6" fill="none" stroke="#000" stroke-width="0.9"/><path d="M410.2,673.6 Q411.8,677.6 418.6,677.3" fill="none" stroke="#000" stroke-width="0.9"/>
<circle cx="473.7" cy="671.9" r="5" fill="#000"/><path d="M468.7,663.2 Q474.7,662.9 476.3,666.9" fill="none" stroke="#000" stroke-width="0.9"/><path d="M471.1,676.9 Q472.7,680.9 479.5,680.6" fill="none" stroke="#000" stroke-width="0.9"/>
<circle cx="514.8" cy="649.7" r="5" fill="#000"/><path d="M509.8,641.0 Q515.8,640.7 517.4,644.7" fill="none" stroke="#000" stroke-width="0.9"/><path d="M512.2,654.7 Q513.8,658.7 520.6,658.4" fill="none" stroke="#000" stroke-width="0.9"/>
<circle cx="559.8" cy="623.3" r="5" fill="#000"/><path d="M554.8,614.6 Q560.8,614.3 562.4,618.3" fill="none" stroke="#000" stroke-width="0.9"/><path d="M557.2,628.3 Q558.8,632.3 565.6,632.0" fill="none" stroke="#000" stroke-width="0.9"/>
<circle cx="590.9" cy="581.5" r="4.5" fill="none" stroke="#000" stroke-width="0.9"/><path d="M585.9,572.8 Q591.9,572.5 593.5,576.5" fill="none" stroke="#000" stroke-width="0.9"/><path d="M588.3,586.5 Q589.9,590.5 596.7,590.2" fill="none" stroke="#000" stroke-width="0.9"/>
<circle cx="625.3" cy="535.7" r="4.5" fill="none" stroke="#000" stroke-width="0.9"/><path d="M620.3,527.0 Q626.3,526.7 627.9,530.7" fill="none" stroke="#000" stroke-width="0.9"/><path d="M622.7,540.7 Q624.3,544.7 631.1,544.4" fill="none" stroke="#000" stroke-width="0.9"/>
<circle cx="677.5" cy="490.4" r="4.5" fill="none" stroke="#000" stroke-width="0.9"/><path d="M672.5,481.7 Q678.5,481.4 680.1,485.4" fill="none" stroke="#000" stroke-width="0.9"/><path d="M674.9,495.4 Q676.5,499.4 683.3,499.1" fill="none" stroke="#000" stroke-width="0.9"/>
<circle cx="729.7" cy="460.6" r="4.5" fill="none" stroke="#000" stroke-width="0.9"/><path d="M724.7,451.9 Q730.7,451.6 732.3,455.6" fill="none" stroke="#000" stroke-width="0.9"/><path d="M727.1,465.6 Q728.7,469.6 735.5,469.3" fill="none" stroke="#000" stroke-width="0.9"/>
<circle cx="775.5" cy="431.1" r="4.5" fill="none" stroke="#000" stroke-width="0.9"/><path d="M770.5,422.4 Q776.5,422.1 778.1,426.1" fill="none" stroke="#000" stroke-width="0.9"/><path d="M772.9,436.1 Q774.5,440.1 781.3,439.8" fill="none" stroke="#000" stroke-width="0.9"/>
<circle cx="812.6" cy="411.7" r="4.5" fill="none" stroke="#000" stroke-width="0.9"/><path d="M807.6,403.0 Q813.6,402.7 815.2,406.7" fill="none" stroke="#000" stroke-width="0.9"/><path d="M810.0,416.7 Q811.6,420.7 818.4,420.4" fill="none" stroke="#000" stroke-width="0.9"/>
<circle cx="846.9" cy="388.5" r="5" fill="#000"/><path d="M841.9,379.8 Q847.9,379.5 849.5,383.5" fill="none" stroke="#000" stroke-width="0.9"/><path d="M844.3,393.5 Q845.9,397.5 852.7,397.2" fill="none" stroke="#000" stroke-width="0.9"/>
<circle cx="893.0" cy="374.0" r="5" fill="#000"/><path d="M888.0,365.3 Q894.0,365.0 895.6,369.0" fill="none" stroke="#000" stroke-width="0.9"/><path d="M890.4,379.0 Q892.0,383.0 898.8,382.7" fill="none" stroke="#000" stroke-width="0.9"/>
<circle cx="919.3" cy="369.7" r="5" fill="#000"/><path d="M914.3,361.0 Q920.3,360.7 921.9,364.7" fill="none" stroke="#000" stroke-width="0.9"/><path d="M916.7,374.7 Q918.3,378.7 925.1,378.4" fill="none" stroke="#000" stroke-width="0.9"/>
<circle cx="934.3" cy="367.0" r="5" fill="#000"/><path d="M929.3,358.3 Q935.3,358.0 936.9,362.0" fill="none" stroke="#000" stroke-width="0.9"/><path d="M931.7,372.0 Q933.3,376.0 940.1,375.7" fill="none" stroke="#000" stroke-width="0.9"/>
<circle cx="945.5" cy="361.1" r="5" fill="#000"/><path d="M940.5,352.4 Q946.5,352.1 948.1,356.1" fill="none" stroke="#000" stroke-width="0.9"/><path d="M942.9,366.1 Q944.5,370.1 951.3,369.8" fill="none" stroke="#000" stroke-width="0.9"/>
<circle cx="948.8" cy="358.7" r="5" fill="#000"/><path d="M943.8,350.0 Q949.8,349.7 951.4,353.7" fill="none" stroke="#000" stroke-width="0.9"/><path d="M946.2,363.7 Q947.8,367.7 954.6,367.4" fill="none" stroke="#000" stroke-width="0.9"/>
<circle cx="941.3" cy="358.7" r="5" fill="#000"/><path d="M936.3,350.0 Q942.3,349.7 943.9,353.7" fill="none" stroke="#000" stroke-width="0.9"/><path d="M938.7,363.7 Q940.3,367.7 947.1,367.4" fill="none" stroke="#000" stroke-width="0.9"/>
<circle cx="923.0" cy="358.7" r="5" fill="#000"/><path d="M918.0,350.0 Q924.0,349.7 925.6,353.7" fill="none" stroke="#000" stroke-width="0.9"/><path d="M920.4,363.7 Q922.0,367.7 928.8,367.4" fill="none" stroke="#000" stroke-width="0.9"/>
<circle cx="896.7" cy="358.7" r="5" fill="#000"/><path d="M891.7,350.0 Q897.7,349.7 899.3,353.7" fill="none" stroke="#000" stroke-width="0.9"/><path d="M894.1,363.7 Q895.7,367.7 902.5,367.4" fill="none" stroke="#000" stroke-width="0.9"/>
<circle cx="859.2" cy="369.7" r="5" fill="#000"/><path d="M854.2,361.0 Q860.2,360.7 861.8,364.7" fill="none" stroke="#000" stroke-width="0.9"/><path d="M856.6,374.7 Q858.2,378.7 865.0,378.4" fill="none" stroke="#000" stroke-width="0.9"/>
<circle cx="809.8" cy="374.0" r="5" fill="#000"/><path d="M804.8,365.3 Q810.8,365.0 812.4,369.0" fill="none" stroke="#000" stroke-width="0.9"/><path d="M807.2,379.0 Q808.8,383.0 815.6,382.7" fill="none" stroke="#000" stroke-width="0.9"/>
<circle cx="761.0" cy="374.3" r="5" fill="#000"/><path d="M756.0,365.6 Q762.0,365.3 763.6,369.3" fill="none" stroke="#000" stroke-width="0.9"/><path d="M758.4,379.3 Q760.0,383.3 766.8,383.0" fill="none" stroke="#000" stroke-width="0.9"/>
<polyline points="760.9,373.7 684.9,373.7 613.4,377.9 541.8,388.5 491.7,399.9 469.7,422.7 503.5,505.9 545.4,611.1" fill="none" stroke="#ff00ff" stroke-width="0.9"/>
<circle cx="684.9" cy="373.7" r="5" fill="#ff00ff"/><path d="M679.9,365.0 Q685.9,364.7 687.5,368.7" fill="none" stroke="#ff00ff" stroke-width="0.9"/><path d="M682.3,378.7 Q683.9,382.7 690.7,382.4" fill="none" stroke="#ff00ff" stroke-width="0.9"/>
<circle cx="613.4" cy="377.9" r="5" fill="#ff00ff"/><path d="M608.4,369.2 Q614.4,368.9 616.0,372.9" fill="none" stroke="#ff00ff" stroke-width="0.9"/><path d="M610.8,382.9 Q612.4,386.9 619.2,386.6" fill="none" stroke="#ff00ff" stroke-width="0.9"/>
<circle cx="541.8" cy="388.5" r="5" fill="#ff00ff"/><path d="M536.8,379.8 Q542.8,379.5 544.4,383.5" fill="none" stroke="#ff00ff" stroke-width="0.9"/><path d="M539.2,393.5 Q540.8,397.5 547.6,397.2" fill="none" stroke="#ff00ff" stroke-width="0.9"/>
<circle cx="491.7" cy="399.9" r="5" fill="#ff00ff"/><path d="M486.7,391.2 Q492.7,390.9 494.3,394.9" fill="none" stroke="#ff00ff" stroke-width="0.9"/><path d="M489.1,404.9 Q490.7,408.9 497.5,408.6" fill="none" stroke="#ff00ff" stroke-width="0.9"/>
<circle cx="469.7" cy="422.7" r="5" fill="#ff00ff"/><path d="M464.7,414.0 Q470.7,413.7 472.3,417.7" fill="none" stroke="#ff00ff" stroke-width="0.9"/><path d="M467.1,427.7 Q468.7,431.7 475.5,431.4" fill="none" stroke="#ff00ff" stroke-width="0.9"/>
<circle cx="503.5" cy="505.9" r="5" fill="#ff00ff"/><path d="M498.5,497.2 Q504.5,496.9 506.1,500.9" fill="none" stroke="#ff00ff" stroke-width="0.9"/><path d="M500.9,510.9 Q502.5,514.9 509.3,514.6" fill="none" stroke="#ff00ff" stroke-width="0.9"/>
<circle cx="549.0" cy="620.0" r="4.5" fill="none" stroke="#ff00ff" stroke-width="0.9"/><path d="M544.0,611.3 Q550.0,611.0 551.6,615.0" fill="none" stroke="#ff00ff" stroke-width="0.9"/><path d="M546.4,625.0 Q548.0,629.0 554.8,628.7" fill="none" stroke="#ff00ff" stroke-width="0.9"/>
<rect x="864.4" y="176.0" width="59.5" height="20" fill="#afffff"/>
<rect x="753.0" y="174.0" width="58.8" height="20" fill="#afffff"/>
<rect x="661.5" y="170.0" width="60.2" height="20" fill="#afffff"/>
<rect x="451.6" y="167.0" width="59.9" height="20" fill="#afffff"/>
<rect x="343.0" y="179.0" width="59.8" height="20" fill="#afffff"/>
<rect x="234.6" y="204.0" width="60.5" height="20" fill="#afffff"/>
<rect x="116.8" y="605.0" width="60.3" height="20" fill="#afffff"/>
<rect x="133.0" y="732.0" width="59.8" height="20" fill="#afffff"/>
<line x1="865.6" y1="193.1" x2="760.9" y2="373.7" stroke="#6e0000" stroke-width="0.9"/>
<text x="866.39" y="192" font-size="17.6" textLength="55.49" lengthAdjust="spacingAndGlyphs" fill="#6e0000" stroke="#6e0000" stroke-width="0.55">19/06Z</text>
<line x1="753.7" y1="192.2" x2="684.9" y2="373.7" stroke="#6e0000" stroke-width="0.9"/>
<text x="755.0" y="190" font-size="17.6" textLength="54.78" lengthAdjust="spacingAndGlyphs" fill="#6e0000" stroke="#6e0000" stroke-width="0.55">19/18Z</text>
<line x1="663.8" y1="187.7" x2="613.4" y2="377.9" stroke="#6e0000" stroke-width="0.9"/>
<text x="663.47" y="186" font-size="17.6" textLength="56.2" lengthAdjust="spacingAndGlyphs" fill="#6e0000" stroke="#6e0000" stroke-width="0.55">20/06Z</text>
<line x1="511.0" y1="182.7" x2="541.8" y2="388.5" stroke="#6e0000" stroke-width="0.9"/>
<text x="453.58" y="183" font-size="17.6" textLength="55.9" lengthAdjust="spacingAndGlyphs" fill="#6e0000" stroke="#6e0000" stroke-width="0.55">20/18Z</text>
<line x1="401.5" y1="194.5" x2="491.7" y2="399.9" stroke="#6e0000" stroke-width="0.9"/>
<text x="344.98" y="195" font-size="17.6" textLength="55.79" lengthAdjust="spacingAndGlyphs" fill="#6e0000" stroke="#6e0000" stroke-width="0.55">21/06Z</text>
<line x1="294.4" y1="220.3" x2="469.7" y2="422.7" stroke="#6e0000" stroke-width="0.9"/>
<text x="236.57" y="220" font-size="17.6" textLength="56.5" lengthAdjust="spacingAndGlyphs" fill="#6e0000" stroke="#6e0000" stroke-width="0.55">22/06Z</text>
<line x1="176.6" y1="621.5" x2="503.5" y2="505.9" stroke="#6e0000" stroke-width="0.9"/>
<text x="118.77" y="621" font-size="17.6" textLength="56.3" lengthAdjust="spacingAndGlyphs" fill="#6e0000" stroke="#6e0000" stroke-width="0.55">23/06Z</text>
<line x1="192.3" y1="748.6" x2="549.0" y2="620.0" stroke="#6e0000" stroke-width="0.9"/>
<text x="134.98" y="748" font-size="17.6" textLength="55.79" lengthAdjust="spacingAndGlyphs" fill="#6e0000" stroke="#6e0000" stroke-width="0.55">24/06Z</text>
<text x="138.12" y="402" font-size="16" textLength="53.05" lengthAdjust="spacingAndGlyphs" fill="#000" stroke="#000" stroke-width="0.25">Port Vila</text>
<text x="495.1" y="403" font-size="16" textLength="29.73" lengthAdjust="spacingAndGlyphs" fill="#000" stroke="#000" stroke-width="0.25">Nadi</text>
<text x="531.19" y="414" font-size="16" textLength="29.38" lengthAdjust="spacingAndGlyphs" fill="#000" stroke="#000" stroke-width="0.25">Suva</text>
<text x="67.15" y="571" font-size="16" textLength="51.41" lengthAdjust="spacingAndGlyphs" fill="#000" stroke="#000" stroke-width="0.25">Nouméa</text>
<text x="767.0" y="530" font-size="16" textLength="40.62" lengthAdjust="spacingAndGlyphs" fill="#000" stroke="#000" stroke-width="0.25">Tonga</text>
<text x="973.13" y="452" font-size="16" textLength="28.66" lengthAdjust="spacingAndGlyphs" fill="#000" stroke="#000" stroke-width="0.25">Niue</text>
<text x="923.12" y="269" font-size="16" textLength="70.05" lengthAdjust="spacingAndGlyphs" fill="#000" stroke="#000" stroke-width="0.25">Pago Pago</text>
<text x="1067.5" y="66" font-size="19.5" textLength="53.5" lengthAdjust="spacingAndGlyphs" fill="#00cdcd">JTWC</text>
<text x="1056.5" y="888" font-size="19.5" textLength="64.5" lengthAdjust="spacingAndGlyphs" fill="#00cdcd">ATCF®</text>
</g>
<rect x="46.5" y="51.5" width="1082" height="840" fill="none" stroke="#000" stroke-width="0.9"/>
<text class="m" x="16.00" y="95" letter-spacing="0.600" xml:space="preserve">10S</text><text class="m" x="1131.00" y="95" letter-spacing="0.600" xml:space="preserve">10S</text><text class="m" x="16.00" y="284" letter-spacing="0.600" xml:space="preserve">15S</text><text class="m" x="1131.00" y="284" letter-spacing="0.600" xml:space="preserve">15S</text><text class="m" x="16.00" y="472" letter-spacing="0.600" xml:space="preserve">20S</text><text class="m" x="1131.00" y="472" letter-spacing="0.600" xml:space="preserve">20S</text><text class="m" x="16.00" y="661" letter-spacing="0.600" xml:space="preserve">25S</text><text class="m" x="1131.00" y="661" letter-spacing="0.600" xml:space="preserve">25S</text><text class="m" x="16.00" y="850" letter-spacing="0.600" xml:space="preserve">30S</text><text class="m" x="1131.00" y="850" letter-spacing="0.600" xml:space="preserve">30S</text><text class="m" x="209.50" y="904" letter-spacing="0.600" xml:space="preserve">170E</text><text class="m" x="398.50" y="904" letter-spacing="0.600" xml:space="preserve">175E</text><text class="m" x="587.50" y="904" letter-spacing="0.600" xml:space="preserve">180E</text><text class="m" x="776.50" y="904" letter-spacing="0.600" xml:space="preserve">175W</text><text class="m" x="964.50" y="904" letter-spacing="0.600" xml:space="preserve">170W</text>
<rect x="1196" y="52" width="395" height="338" fill="#fff" stroke="#000" stroke-width="2"/>
<rect x="1196" y="391" width="343" height="111" fill="#fff" stroke="#000" stroke-width="2"/>
<text class="m" x="1205.00" y="69" letter-spacing="0.600" xml:space="preserve">TROPICAL CYCLONE 11P (WINSTON) WARNING #25</text><text class="m" x="1205.00" y="83" letter-spacing="0.600" xml:space="preserve">WTPS31 PGTW 190900</text><text class="m" x="1205.00" y="97" letter-spacing="0.600" xml:space="preserve">190600Z POSIT: NEAR 17.5S 175.9W</text><text class="m" x="1205.00" y="111" letter-spacing="0.600" xml:space="preserve">MOVING 270 DEGREES TRUE AT 12 KNOTS</text><text class="m" x="1205.00" y="125" letter-spacing="0.600" xml:space="preserve">MAXIMUM SIGNIFICANT WAVE HEIGHT: 35 FEET</text><text class="m" x="1205.00" y="139" letter-spacing="0.600" xml:space="preserve">19/06Z, WINDS 125 KTS, GUSTS TO 150 KTS</text><text class="m" x="1205.00" y="153" letter-spacing="0.600" xml:space="preserve">19/18Z, WINDS 135 KTS, GUSTS TO 165 KTS</text><text class="m" x="1205.00" y="167" letter-spacing="0.600" xml:space="preserve">20/06Z, WINDS 130 KTS, GUSTS TO 160 KTS</text><text class="m" x="1205.00" y="181" letter-spacing="0.600" xml:space="preserve">20/18Z, WINDS 115 KTS, GUSTS TO 140 KTS</text><text class="m" x="1205.00" y="195" letter-spacing="0.600" xml:space="preserve">21/06Z, WINDS 105 KTS, GUSTS TO 130 KTS</text><text class="m" x="1205.00" y="209" letter-spacing="0.600" xml:space="preserve">22/06Z, WINDS 100 KTS, GUSTS TO 125 KTS</text><text class="m" x="1205.00" y="223" letter-spacing="0.600" xml:space="preserve">23/06Z, WINDS 080 KTS, GUSTS TO 100 KTS</text><text class="m" x="1205.00" y="237" letter-spacing="0.600" xml:space="preserve">24/06Z, WINDS 055 KTS, GUSTS TO 070 KTS</text><rect x="1205" y="253" width="360" height="1" fill="#000"/><text class="m" x="1205.00" y="279" letter-spacing="0.600" xml:space="preserve">CPA TO:</text><text class="m" x="1403.00" y="279" letter-spacing="0.600" xml:space="preserve">NM</text><text class="m" x="1466.00" y="279" letter-spacing="0.600" xml:space="preserve">DTG</text><text class="m" x="1205.00" y="293" letter-spacing="0.600" xml:space="preserve">SUVA</text><text class="m" x="1412.00" y="293" letter-spacing="0.600" xml:space="preserve">13</text><text class="m" x="1448.00" y="293" letter-spacing="0.600" xml:space="preserve">20/18Z</text><rect x="1205" y="309" width="360" height="1" fill="#000"/><text class="m" x="1205.00" y="335" letter-spacing="0.600" xml:space="preserve">BEARING AND DISTANCE</text><text class="m" x="1439.00" y="335" letter-spacing="0.600" xml:space="preserve">DIR</text><text class="m" x="1484.00" y="335" letter-spacing="0.600" xml:space="preserve">DIST</text><text class="m" x="1538.00" y="335" letter-spacing="0.600" xml:space="preserve">TAU</text><text class="m" x="1484.00" y="349" letter-spacing="0.600" xml:space="preserve">(NM)</text><text class="m" x="1529.00" y="349" letter-spacing="0.600" xml:space="preserve">(HRS)</text><text class="m" x="1205.00" y="363" letter-spacing="0.600" xml:space="preserve">SUVA</text><text class="m" x="1439.00" y="363" letter-spacing="0.600" xml:space="preserve">074</text><text class="m" x="1493.00" y="363" letter-spacing="0.600" xml:space="preserve">107</text><text class="m" x="1547.00" y="363" letter-spacing="0.600" xml:space="preserve">24</text><text class="m" x="1205.00" y="377" letter-spacing="0.600" xml:space="preserve">TONGA</text><text class="m" x="1439.00" y="377" letter-spacing="0.600" xml:space="preserve">308</text><text class="m" x="1493.00" y="377" letter-spacing="0.600" xml:space="preserve">334</text><text class="m" x="1547.00" y="377" letter-spacing="0.600" xml:space="preserve">24</text><circle cx="1207" cy="401" r="3.8" fill="none" stroke="#000" stroke-width="0.9"/><text class="m" x="1216.00" y="405" letter-spacing="0.600" xml:space="preserve">LESS THAN 34 KNOTS</text><circle cx="1207" cy="417.7" r="3.8" fill="none" stroke="#000" stroke-width="0.9"/><path d="M1203.0,410.7 Q1207.8,410.5 1209.1,413.7" fill="none" stroke="#000" stroke-width="0.9"/><path d="M1204.9,421.7 Q1206.2,424.9 1211.6,424.7" fill="none" stroke="#000" stroke-width="0.9"/><text class="m" x="1216.00" y="422" letter-spacing="0.600" xml:space="preserve">34-63 KNOTS</text><circle cx="1207" cy="435.3" r="4.3" fill="#000"/><path d="M1203.0,428.3 Q1207.8,428.1 1209.1,431.3" fill="none" stroke="#000" stroke-width="0.9"/><path d="M1204.9,439.3 Q1206.2,442.5 1211.6,442.3" fill="none" stroke="#000" stroke-width="0.9"/><text class="m" x="1216.00" y="439" letter-spacing="0.600" xml:space="preserve">MORE THAN 63 KNOTS</text><text class="m" x="1203.00" y="456" letter-spacing="0.600" xml:space="preserve">PAST 6 HOURLY CYCLONE POSITS IN BLACK</text><text class="m" x="1203.00" y="473" letter-spacing="0.600" xml:space="preserve">FORECAST CYCLONE POSITS IN COLOR</text>
<g shape-rendering="geometricPrecision"><circle cx="1638.3" cy="889.2" r="33" fill="none" stroke="#b4b4b4" stroke-width="1.3"/><path d="M1614.3,866.2 Q1626.3,845.2 1655.8,841.4000000000001 Q1643.3,849.2 1639.3,857.2 L1633.3,864.2 Z" fill="none" stroke="#b4b4b4" stroke-width="1.3"/><path d="M1614.3,866.2 Q1626.3,845.2 1655.8,841.4000000000001 Q1643.3,849.2 1639.3,857.2 L1633.3,864.2 Z" fill="none" stroke="#b4b4b4" stroke-width="1.3" transform="rotate(180 1638.3 889.2)"/><circle cx="1638.3" cy="889.2" r="33" fill="#d9002b" stroke="none" stroke-width="1.3"/><path d="M1614.3,866.2 Q1626.3,845.2 1655.8,841.4000000000001 Q1643.3,849.2 1639.3,857.2 L1633.3,864.2 Z" fill="#d9002b" stroke="none" stroke-width="1.3"/><path d="M1614.3,866.2 Q1626.3,845.2 1655.8,841.4000000000001 Q1643.3,849.2 1639.3,857.2 L1633.3,864.2 Z" fill="#d9002b" stroke="none" stroke-width="1.3" transform="rotate(180 1638.3 889.2)"/><defs><path id="arc1" d="M1612.3,897.2 A27,27 0 1 1 1664.3,897.2"/></defs><text font-size="5.0" font-weight="bold" fill="#fff" fill-opacity="0.92" letter-spacing="0.2"><textPath href="#arc1" startOffset="2">JOINT TYPHOON WARNING CENTER</textPath></text><ellipse cx="1615.2" cy="881" rx="1.2" ry="1" fill="#1e8c3c"/><ellipse cx="1620.6" cy="877.3" rx="2" ry="1.6" fill="#1e8c3c"/><ellipse cx="1628.3" cy="875.6" rx="2.4" ry="1.8" fill="#1e8c3c"/><ellipse cx="1635.5" cy="878.3" rx="2.6" ry="1" fill="#1e8c3c"/><ellipse cx="1640.5" cy="878.8" rx="2" ry="1.3" fill="#1e8c3c"/><ellipse cx="1643.5" cy="880.8" rx="1.3" ry="1" fill="#1e8c3c"/><path d="M1647.5,883 L1652,882.5 L1659.5,887 L1658,891 L1653.5,895.5 L1650,894 L1649,888 Z" fill="#1e8c3c"/><circle cx="1638" cy="889.3" r="4.4" fill="#fff"/><text x="1638.3" y="905.5" font-size="4.3" font-weight="bold" fill="#fff" fill-opacity="0.9" text-anchor="middle">PEARL HARBOR</text><text x="1638.3" y="910.3" font-size="3.6" font-weight="bold" fill="#fff" text-anchor="middle">HAWAII</text><text x="1614" y="906" font-size="3.6" font-weight="bold" fill="#fff" transform="rotate(40 1614 906)">U.S.</text><text x="1655" y="911" font-size="3.6" font-weight="bold" fill="#fff" transform="rotate(-40 1655 911)">NAVY</text></g>
</svg></body></html>
